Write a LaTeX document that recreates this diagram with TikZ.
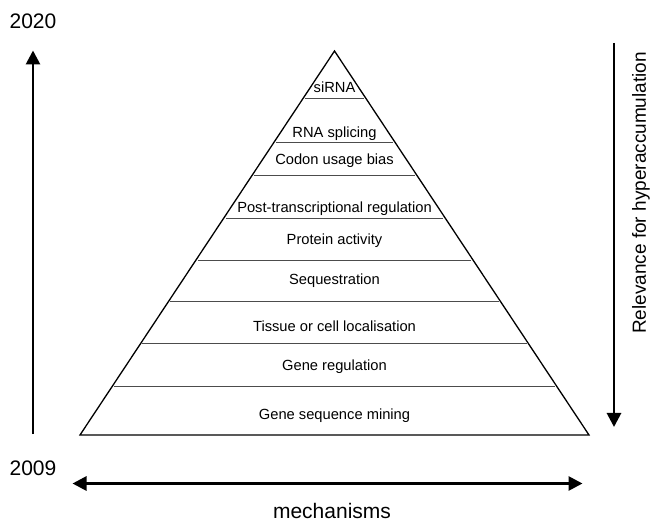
\documentclass[tikz,border=0pt]{standalone}
\usepackage{fontspec}
\setmainfont{Liberation Sans}
\usetikzlibrary{arrows.meta,calc}
\begin{document}
\begin{tikzpicture}[x=1pt,y=-1pt,
  pyr/.style={draw=black,line width=1.3pt,line join=miter},
  band/.style={draw=black!70,line width=1pt},
  lvl/.style={anchor=base,inner sep=0pt,font=\fontsize{14.7}{16}\selectfont},
  big/.style={inner sep=0pt,font=\fontsize{21}{24}\selectfont},
  bigarrow/.style={line width=2.8pt,-{Triangle[length=14pt,width=14pt]}},
  dblarrow/.style={line width=2.8pt,{Triangle[length=14pt,width=14pt]}-{Triangle[length=14pt,width=14pt]}}]
\useasboundingbox (0,0) rectangle (664,526);
% pyramid
\coordinate (apex) at (334.5,51);
\coordinate (bl) at (80,435);
\coordinate (br) at (589,435);
\draw[pyr] (apex) -- (br) -- (bl) -- cycle;
% band lines
\foreach \t/\nm in {0.125/b1,0.237/b2,0.3255/b3,0.4349/b4,0.5443/b5,0.6536/b6,0.763/b7,0.8724/b8}{
  \coordinate (\nm l) at ($(apex)!\t!(bl)+(2,0)$);
  \coordinate (\nm r) at ($(apex)!\t!(br)+(-2,0)$);
  \draw[band] (\nm l) -- (\nm r);
}
% level labels
\node[lvl] (l1) at (334.5,92.7) {siRNA};
\node[lvl] (l2) at (334.5,138) {RNA splicing};
\node[lvl] (l3) at (334.5,165) {Codon usage bias};
\node[lvl] (l4) at (334.5,212.7) {Post-transcriptional regulation};
\node[lvl] (l5) at (334.5,244.5) {Protein activity};
\node[lvl] (l6) at (334.5,285) {Sequestration};
\node[lvl] (l7) at (334.5,331.5) {Tissue or cell localisation};
\node[lvl] (l8) at (334.5,371) {Gene regulation};
\node[lvl] (l9) at (334.5,420) {Gene sequence mining};
% time axis
\node[big,anchor=base] (y2020) at (33,28.3) {2020};
\node[big,anchor=base] (y2009) at (33,475) {2009};
\coordinate (tb) at (33,434);
\coordinate (tt) at (33,50.5);
\draw[bigarrow] (tb) -- (tt);
% mechanisms axis
\coordinate (ml) at (72.5,483.5);
\coordinate (mr) at (582.5,483.5);
\draw[dblarrow] (ml) -- (mr);
\node[big,anchor=base] (mech) at (332,518) {mechanisms};
% relevance axis
\coordinate (rt) at (614,43);
\coordinate (rb) at (614,427);
\draw[bigarrow] (rt) -- (rb);
\node[inner sep=0pt,rotate=90,font=\fontsize{19}{22}\selectfont] (rel) at (641,193) {Relevance for hyperaccumulation};
\end{tikzpicture}
\end{document}
